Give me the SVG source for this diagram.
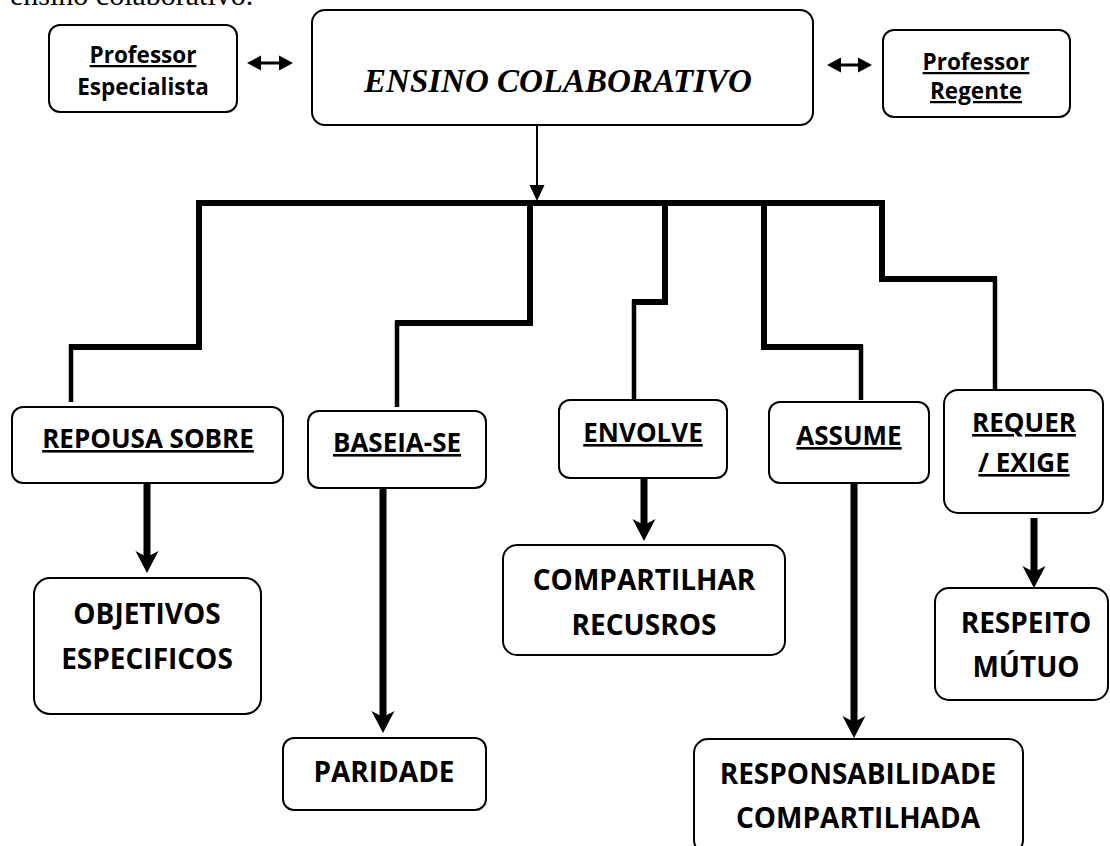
<svg xmlns="http://www.w3.org/2000/svg" width="1110" height="846" viewBox="0 0 1110 846">
<defs>
<style>
.box{fill:#fff;stroke:#000;stroke-width:2}
.lbl{font-family:"Open Sans","Liberation Sans",sans-serif;font-weight:bold;fill:#000;text-anchor:middle}
.u{text-decoration:underline}
.top{font-size:22.5px}
.mid{font-size:26px}
.bot{font-size:28px}
.bus{fill:none;stroke:#000;stroke-width:6;stroke-linejoin:miter}
.drop{fill:none;stroke:#000;stroke-width:4.5}
.thick{stroke:#000;stroke-width:7;fill:none}
.thin{stroke:#000;stroke-width:2;fill:none}
.dbl{stroke:#000;stroke-width:3;fill:none}
</style>
<marker id="headBig" viewBox="0 -12 24 24" markerWidth="24" markerHeight="24" markerUnits="userSpaceOnUse" refX="6" refY="0" orient="auto">
<path d="M0,-11.5 L22,0 L0,11.5 L6,0 Z" fill="#000"/>
</marker>
<marker id="headSmall" viewBox="0 -8 16 16" markerWidth="16" markerHeight="16" markerUnits="userSpaceOnUse" refX="1" refY="0" orient="auto">
<path d="M0,-7.5 L16,0 L0,7.5 Z" fill="#000"/>
</marker>
<marker id="headDbl" viewBox="0 -8 14 16" markerWidth="14" markerHeight="16" markerUnits="userSpaceOnUse" refX="1" refY="0" orient="auto-start-reverse">
<path d="M0,-7.5 L14,0 L0,7.5 Z" fill="#000"/>
</marker>
</defs>
<rect width="1110" height="846" fill="#fff"/>
<text x="10" y="5" font-family="Liberation Serif, serif" font-size="30" fill="#000">ensino colaborativo.</text>

<g id="connectors">
<line class="dbl" x1="260" y1="63" x2="280" y2="63" marker-start="url(#headDbl)" marker-end="url(#headDbl)"/>
<line class="dbl" x1="840" y1="65" x2="859" y2="65" marker-start="url(#headDbl)" marker-end="url(#headDbl)"/>
<line class="thin" x1="537" y1="125" x2="537" y2="186" marker-end="url(#headSmall)"/>
<path class="bus" d="M196,203 H885"/>
<path class="bus" d="M199,203 V347 H69"/>
<path class="drop" d="M71,345 V402"/>
<path class="bus" d="M530,203 V323 H395"/>
<path class="drop" d="M397,321 V407"/>
<path class="bus" d="M665,203 V302 H632"/>
<path class="drop" d="M634,300 V400"/>
<path class="bus" d="M764,203 V347 H863"/>
<path class="drop" d="M861,345 V400"/>
<path class="bus" d="M882,203 V279 H997"/>
<path class="drop" d="M995,277 V389"/>
<line class="thick" x1="147" y1="483" x2="147" y2="557" marker-end="url(#headBig)"/>
<line class="thick" x1="383" y1="488" x2="383" y2="717" marker-end="url(#headBig)"/>
<line class="thick" x1="644" y1="478" x2="644" y2="525" marker-end="url(#headBig)"/>
<line class="thick" x1="854" y1="483" x2="854" y2="722" marker-end="url(#headBig)"/>
<line class="thick" x1="1034" y1="518" x2="1034" y2="572" marker-end="url(#headBig)"/>
</g>

<g id="professor-especialista">
<rect class="box" x="49" y="25" width="188" height="87" rx="11"/>
<text class="lbl top u" x="143" y="63">Professor</text>
<text class="lbl top" x="143" y="95">Especialista</text>
</g>

<g id="ensino-colaborativo">
<rect class="box" x="312" y="10" width="501" height="115" rx="13"/>
<text x="558" y="92" font-family="Liberation Serif, serif" font-size="33" font-weight="bold" font-style="italic" text-anchor="middle" fill="#000">ENSINO COLABORATIVO</text>
</g>

<g id="professor-regente">
<rect class="box" x="883" y="30" width="187" height="87" rx="11"/>
<text class="lbl top u" x="976" y="70">Professor</text>
<text class="lbl top u" x="976" y="99">Regente</text>
</g>

<g id="repousa-sobre">
<rect class="box" x="12" y="407" width="271" height="76" rx="11"/>
<text class="lbl mid u" x="148" y="448">REPOUSA SOBRE</text>
</g>

<g id="baseia-se">
<rect class="box" x="308" y="411" width="178" height="77" rx="11"/>
<text class="lbl mid u" x="397" y="452">BASEIA-SE</text>
</g>

<g id="envolve">
<rect class="box" x="559" y="400" width="168" height="78" rx="11"/>
<text class="lbl mid u" x="643" y="442">ENVOLVE</text>
</g>

<g id="assume">
<rect class="box" x="769" y="402" width="160" height="81" rx="11"/>
<text class="lbl mid u" x="849" y="445">ASSUME</text>
</g>

<g id="requer-exige">
<rect class="box" x="944" y="390" width="159" height="123" rx="14"/>
<text class="lbl mid u" x="1024" y="432">REQUER</text>
<text class="lbl mid u" x="1024" y="472">/ EXIGE</text>
</g>

<g id="objetivos-especificos">
<rect class="box" x="34" y="578" width="227" height="136" rx="16"/>
<text class="lbl bot" x="147" y="624">OBJETIVOS</text>
<text class="lbl bot" x="147" y="669">ESPECIFICOS</text>
</g>

<g id="paridade">
<rect class="box" x="283" y="738" width="203" height="72" rx="11"/>
<text class="lbl bot" x="384" y="782">PARIDADE</text>
</g>

<g id="compartilhar-recursos">
<rect class="box" x="503" y="545" width="282" height="110" rx="14"/>
<text class="lbl bot" x="644" y="590">COMPARTILHAR</text>
<text class="lbl bot" x="644" y="635">RECUSROS</text>
</g>

<g id="responsabilidade-compartilhada">
<rect class="box" x="694" y="739" width="329" height="115" rx="14"/>
<text class="lbl bot" x="858" y="784">RESPONSABILIDADE</text>
<text class="lbl bot" x="858" y="828">COMPARTILHADA</text>
</g>

<g id="respeito-mutuo">
<rect class="box" x="935" y="588" width="173" height="112" rx="14"/>
<text class="lbl bot" x="1026" y="633">RESPEITO</text>
<text class="lbl bot" x="1026" y="677">MÚTUO</text>
</g>
</svg>
